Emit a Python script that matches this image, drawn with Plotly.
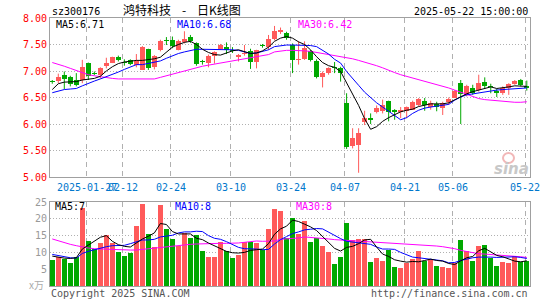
import plotly.graph_objects as go

# ---------------- data ----------------
dates = ["01-17", "01-20", "01-21", "01-22", "01-23", "01-24", "01-27",
         "02-05", "02-06", "02-07", "02-10", "02-11", "02-12", "02-13", "02-14",
         "02-17", "02-18", "02-19", "02-20", "02-21", "02-24", "02-25", "02-26",
         "02-27", "02-28",
         "03-03", "03-04", "03-05", "03-06", "03-07", "03-10", "03-11", "03-12",
         "03-13", "03-14", "03-17", "03-18", "03-19", "03-20", "03-21", "03-24",
         "03-25", "03-26", "03-27", "03-28", "03-31",
         "04-01", "04-02", "04-03", "04-07", "04-08", "04-09", "04-10", "04-11",
         "04-14", "04-15", "04-16", "04-17", "04-18", "04-21", "04-22", "04-23",
         "04-24", "04-25", "04-28", "04-29", "04-30",
         "05-06", "05-07", "05-08", "05-09", "05-12", "05-13", "05-14", "05-15",
         "05-16", "05-19", "05-20", "05-21", "05-22"]

open_ = [6.82, 6.82, 6.93, 6.88, 6.83, 6.83, 7.15, 6.96, 6.92, 7.10,
         7.16, 7.27, 7.17, 7.20, 7.12, 7.02, 7.42, 7.07, 7.39, 7.58,
         7.59, 7.39, 7.54, 7.65, 7.53, 7.19, 7.15, 7.29, 7.42, 7.46,
         7.39, 7.26, 7.33, 7.37, 7.17, 7.49, 7.46, 7.60, 7.73, 7.71,
         7.49, 7.20, 7.22, 7.37, 7.18, 6.88, 6.97, 7.08, 7.05, 6.39,
         5.59, 5.61, 6.03, 6.10, 6.22, 6.25, 6.44, 6.25, 6.24, 6.24,
         6.27, 6.36, 6.44, 6.32, 6.38, 6.31, 6.41, 6.50, 6.78, 6.55,
         6.68, 6.64, 6.80, 6.71, 6.63, 6.59, 6.68, 6.75, 6.83, 6.72]
high = [6.83, 6.95, 6.99, 6.91, 6.96, 7.21, 7.16, 6.99, 7.07, 7.25,
        7.27, 7.29, 7.22, 7.22, 7.32, 7.47, 7.42, 7.30, 7.59, 7.64,
        7.65, 7.59, 7.75, 7.68, 7.54, 7.21, 7.31, 7.37, 7.51, 7.54,
        7.45, 7.32, 7.49, 7.42, 7.40, 7.51, 7.68, 7.85, 7.82, 7.74,
        7.52, 7.56, 7.56, 7.40, 7.22, 6.99, 7.07, 7.17, 7.08, 6.58,
        5.92, 5.92, 6.25, 6.20, 6.35, 6.46, 6.44, 6.28, 6.32, 6.33,
        6.44, 6.49, 6.49, 6.44, 6.42, 6.42, 6.50, 6.64, 6.83, 6.74,
        6.74, 6.93, 6.88, 6.76, 6.66, 6.71, 6.77, 6.83, 6.85, 6.82]
low = [6.76, 6.77, 6.66, 6.71, 6.71, 6.77, 6.83, 6.92, 6.86, 7.05,
       7.15, 7.18, 7.10, 7.11, 7.07, 7.02, 7.02, 7.03, 7.37, 7.49,
       7.43, 7.39, 7.52, 7.53, 7.10, 7.12, 7.07, 7.14, 7.40, 7.32,
       7.34, 7.18, 7.29, 7.04, 7.05, 7.44, 7.40, 7.58, 7.70, 7.59,
       6.96, 7.12, 7.21, 7.18, 6.86, 6.69, 6.93, 6.96, 6.80, 5.53,
       5.54, 5.08, 5.98, 6.00, 6.20, 6.20, 6.05, 6.08, 6.11, 6.11,
       6.27, 6.34, 6.25, 6.27, 6.24, 6.17, 6.36, 6.49, 6.00, 6.52,
       6.55, 6.61, 6.66, 6.58, 6.51, 6.55, 6.55, 6.74, 6.71, 6.63]
close = [6.79, 6.88, 6.85, 6.76, 6.74, 7.07, 6.90, 6.94, 7.05, 7.16,
         7.26, 7.20, 7.16, 7.13, 7.18, 7.45, 7.05, 7.29, 7.57, 7.56,
         7.48, 7.56, 7.60, 7.57, 7.14, 7.17, 7.29, 7.36, 7.49, 7.39,
         7.38, 7.30, 7.34, 7.17, 7.39, 7.47, 7.60, 7.76, 7.78, 7.62,
         7.20, 7.22, 7.43, 7.20, 6.88, 6.97, 7.05, 7.06, 6.96, 5.56,
         5.73, 5.83, 6.12, 6.09, 6.30, 6.36, 6.22, 6.24, 6.25, 6.32,
         6.42, 6.47, 6.36, 6.39, 6.32, 6.39, 6.48, 6.63, 6.57, 6.72,
         6.58, 6.77, 6.71, 6.70, 6.58, 6.68, 6.75, 6.82, 6.74, 6.67]

ma5 = [6.65, 6.76, 6.79, 6.80, 6.80, 6.83, 6.85, 6.86, 6.90, 7.00,
       7.08, 7.14, 7.17, 7.19, 7.20, 7.20, 7.21, 7.23, 7.26, 7.35,
       7.45, 7.50, 7.54, 7.56, 7.50, 7.41, 7.35, 7.31, 7.30, 7.34,
       7.38, 7.40, 7.37, 7.33, 7.34, 7.38, 7.45, 7.56, 7.62, 7.65,
       7.62, 7.55, 7.50, 7.40, 7.27, 7.16, 7.10, 7.07, 6.99, 6.78,
       6.55, 6.35, 6.10, 5.90, 5.95, 6.05, 6.12, 6.18, 6.23, 6.26,
       6.28, 6.33, 6.35, 6.38, 6.38, 6.38, 6.40, 6.46, 6.52, 6.57,
       6.61, 6.64, 6.68, 6.70, 6.67, 6.68, 6.70, 6.72, 6.72, 6.71]
ma10 = [6.59, 6.62, 6.65, 6.66, 6.67, 6.72, 6.77, 6.81, 6.85, 6.89,
        6.94, 6.98, 7.03, 7.08, 7.12, 7.12, 7.14, 7.16, 7.19, 7.24,
        7.29, 7.33, 7.36, 7.39, 7.41, 7.41, 7.41, 7.41, 7.41, 7.41,
        7.40, 7.39, 7.36, 7.33, 7.34, 7.37, 7.40, 7.46, 7.48, 7.49,
        7.49, 7.49, 7.49, 7.48, 7.46, 7.39, 7.32, 7.22, 7.15, 6.99,
        6.87, 6.73, 6.60, 6.50, 6.40, 6.32, 6.24, 6.16, 6.08, 6.12,
        6.20, 6.26, 6.30, 6.32, 6.34, 6.35, 6.37, 6.45, 6.51, 6.55,
        6.57, 6.59, 6.61, 6.63, 6.64, 6.65, 6.66, 6.67, 6.68, 6.68]
ma30 = [7.16, 7.13, 7.09, 7.05, 7.01, 6.97, 6.93, 6.91, 6.89, 6.87,
        6.86, 6.85, 6.85, 6.85, 6.85, 6.85, 6.85, 6.85, 6.88, 6.91,
        6.95, 6.98, 7.01, 7.03, 7.06, 7.09, 7.11, 7.13, 7.15, 7.17,
        7.19, 7.21, 7.23, 7.25, 7.27, 7.29, 7.31, 7.36, 7.38, 7.39,
        7.39, 7.39, 7.38, 7.37, 7.35, 7.33, 7.31, 7.30, 7.28, 7.26,
        7.23, 7.20, 7.17, 7.14, 7.10, 7.06, 7.01, 6.97, 6.93, 6.90,
        6.87, 6.83, 6.80, 6.77, 6.74, 6.71, 6.68, 6.64, 6.60, 6.56,
        6.51, 6.48, 6.46, 6.45, 6.43, 6.42, 6.42, 6.41, 6.41, 6.42]

volume = [7.8, 8.5, 8.0, 6.8, 8.5, 23.2, 13.4, 11.0, 12.9, 15.2,
          12.9, 10.0, 9.0, 9.8, 17.8, 24.4, 15.4, 11.5, 24.0, 16.9,
          13.9, 11.8, 15.7, 14.2, 15.2, 10.5, 8.5, 8.7, 13.1, 10.5,
          8.2, 9.3, 13.1, 13.2, 12.8, 10.8, 17.1, 22.9, 22.3, 14.4,
          20.2, 15.4, 19.3, 13.1, 14.4, 12.0, 10.0, 6.6, 8.7, 18.8,
          13.7, 14.1, 13.9, 7.1, 8.2, 7.5, 10.8, 5.6, 5.3, 6.8,
          8.0, 10.5, 7.5, 8.0, 6.1, 5.6, 5.3, 6.8, 13.7, 10.5,
          7.5, 12.0, 12.3, 8.2, 5.9, 7.1, 6.9, 8.8, 7.1, 7.5]
vma5 = [8.9, 8.5, 8.3, 8.2, 8.4, 11.0, 12.2, 13.3, 14.5, 15.0,
        13.3, 12.3, 11.8, 11.6, 12.9, 14.0, 14.8, 15.8, 18.6, 18.3,
        16.2, 15.5, 15.5, 15.5, 14.2, 13.8, 12.8, 11.9, 11.0, 10.3,
        9.9, 9.8, 10.0, 10.6, 10.8, 11.0, 12.6, 15.4, 17.0, 17.8,
        19.6, 19.2, 18.4, 17.6, 16.5, 14.8, 13.0, 11.2, 10.4, 11.5,
        11.8, 12.6, 13.7, 13.9, 11.6, 9.5, 8.8, 7.8, 7.4, 7.1,
        7.3, 7.2, 7.6, 8.0, 7.6, 7.4, 6.7, 6.4, 7.5, 8.4,
        8.8, 10.5, 11.2, 10.2, 9.1, 8.7, 8.1, 7.4, 7.2, 7.5]
vma10 = [9.4, 9.0, 8.6, 8.4, 8.3, 9.7, 10.3, 10.8, 11.3, 11.7,
         12.0, 12.0, 12.1, 12.6, 13.2, 13.7, 13.7, 13.9, 14.6, 14.8,
         15.1, 15.8, 16.1, 16.1, 16.3, 16.2, 15.0, 14.2, 13.9, 13.2,
         12.3, 11.5, 11.1, 11.1, 11.0, 10.8, 10.9, 12.5, 13.8, 14.7,
         15.6, 16.1, 16.7, 16.9, 17.1, 17.0, 16.0, 15.0, 14.1, 13.3,
         13.1, 13.0, 12.7, 12.4, 11.6, 11.0, 11.0, 10.9, 10.0, 9.3,
         8.6, 8.4, 8.2, 8.0, 7.6, 7.5, 6.9, 7.0, 7.6, 8.1,
         8.4, 8.6, 8.7, 8.6, 8.5, 8.6, 8.8, 8.7, 8.5, 8.2]
vma30 = [14.0, 13.4, 12.9, 12.4, 12.0, 11.6, 11.3, 11.1, 11.0, 10.9,
         10.8, 10.7, 10.7, 10.7, 10.7, 10.9, 11.1, 11.3, 11.5, 11.8,
         12.0, 12.2, 12.3, 12.4, 12.5, 12.6, 12.7, 12.7, 12.7, 12.7,
         12.7, 12.8, 13.0, 13.2, 13.4, 13.3, 13.3, 13.4, 13.9, 14.0,
         14.1, 14.3, 14.6, 14.5, 14.4, 14.2, 14.0, 13.8, 13.7, 13.5,
         13.4, 13.3, 13.2, 13.0, 12.9, 12.8, 12.7, 12.6, 12.5, 12.4,
         12.3, 12.2, 12.1, 12.0, 11.9, 11.7, 11.5, 11.1, 10.6, 10.2,
         9.9, 9.6, 9.5, 9.4, 9.3, 9.2, 9.0, 8.9, 8.7, 8.5]

label_dates = ["01-27", "02-12", "02-24", "03-10", "03-24", "04-07", "04-21", "05-06", "05-22"]
label_text = ["2025-01-27", "02-12", "02-24", "03-10", "03-24", "04-07", "04-21", "05-06", "05-22"]
price_ticks = [5.0, 5.5, 6.0, 6.5, 7.0, 7.5, 8.0]
vol_ticks = [5, 10, 15, 20, 25]

# ---------------- styling ----------------
W, H = 545, 300
L, R = 50, 529.5
MONO = "DejaVu Sans Mono"
CJK = "Noto Sans CJK SC"
RED = "#FF5A5A"
GREEN = "#00A800"
FRAME = "#A0A0A0"
GRID = "#B0B0B0"


def px(x):
    return x / W


def py(y):
    return 1 - y / H


n = len(dates)
xs = list(range(n))
tick_pos = [dates.index(d) - 0.3 for d in label_dates]
up = [c >= o for o, c in zip(open_, close)]

fig = go.Figure()

# candles
for flag, col in [(True, RED), (False, GREEN)]:
    wx, wy, bx, bb, bh = [], [], [], [], []
    for i in xs:
        if up[i] != flag:
            continue
        wx += [i, i, None]
        wy += [low[i], high[i], None]
        lo_b = min(open_[i], close[i])
        hgt = abs(close[i] - open_[i])
        if hgt < 0.02:
            lo_b -= (0.02 - hgt) / 2
            hgt = 0.02
        bx.append(i)
        bb.append(lo_b)
        bh.append(hgt)
    fig.add_trace(go.Scatter(x=wx, y=wy, mode="lines", line=dict(color=col, width=1),
                             xaxis="x", yaxis="y", hoverinfo="skip"))
    fig.add_trace(go.Bar(x=bx, y=bh, base=bb, width=0.83,
                         marker=dict(color=col, line=dict(width=0)),
                         xaxis="x", yaxis="y"))

for ser, col in [(ma30, "#FF00FF"), (ma10, "#0000FF"), (ma5, "#000000")]:
    fig.add_trace(go.Scatter(x=xs, y=ser, mode="lines", line=dict(color=col, width=1),
                             xaxis="x", yaxis="y"))

# volume
fig.add_trace(go.Bar(x=xs, y=volume, width=0.83,
                     marker=dict(color=[RED if u else GREEN for u in up], line=dict(width=0)),
                     xaxis="x2", yaxis="y2"))
for ser, col in [(vma30, "#FF00FF"), (vma10, "#0000FF"), (vma5, "#000000")]:
    fig.add_trace(go.Scatter(x=xs, y=ser, mode="lines", line=dict(color=col, width=1),
                             xaxis="x2", yaxis="y2"))

xcommon = dict(domain=[px(L), px(R)], range=[-0.38, 79.45], tickvals=tick_pos,
               showgrid=True, gridcolor=GRID, griddash="5px,4px", gridwidth=1,
               showline=True, mirror=True, linecolor=FRAME, linewidth=1,
               zeroline=False, ticks="", fixedrange=True, showticklabels=False,
               automargin=False)

ycommon = dict(showgrid=True, gridcolor=GRID, griddash="1px,2px",
               showline=True, mirror=True, linecolor=FRAME, zeroline=False,
               ticks="", automargin=False, fixedrange=True)

fig.update_layout(
    width=W, height=H, margin=dict(l=0, r=0, t=0, b=0, autoexpand=False),
    paper_bgcolor="white", plot_bgcolor="white",
    showlegend=False, barmode="overlay", bargap=0, hovermode=False,
    xaxis=dict(**xcommon, anchor="y"),
    xaxis2=dict(**xcommon, anchor="y2"),
    yaxis=dict(**ycommon, domain=[py(177), py(18)], range=[5, 8], tickvals=price_ticks,
               ticktext=["%.2f" % v for v in price_ticks],
               tickfont=dict(family=MONO, size=10, color="#FF0000")),
    yaxis2=dict(**ycommon, domain=[py(286), py(202)], range=[0, 25], tickvals=vol_ticks,
                ticktext=[str(v) for v in vol_ticks],
                tickfont=dict(family=MONO, size=10, color="#999999")),
)


def ann(text, x, y, color, size=10, family=MONO, xanchor="left"):
    fig.add_annotation(text=text, x=px(x), y=py(y), xref="paper", yref="paper",
                       xanchor=xanchor, yanchor="middle", showarrow=False,
                       font=dict(family=family, size=size, color=color))


# date labels under the price panel
for t, s in zip(tick_pos, label_text):
    fig.add_annotation(text=s, x=t, y=py(187), xref="x", yref="paper",
                       xanchor="center", yanchor="middle", showarrow=False,
                       font=dict(family=MONO, size=10, color="#0077CC"))

ann("sz300176", 50, 11.5, "#000000")
ann("鸿特科技", 121, 10, "#000000", size=12, family=CJK)
ann("-", 183.5, 10, "#000000", size=12, family=CJK, xanchor="center")
ann("日K线图", 195, 10, "#000000", size=12, family=CJK)
ann("2025-05-22 15:00:00", 530, 11.5, "#000000", xanchor="right")

ann("MA5:%.2f" % ma5[-1], 54, 24.5, "#000000")
ann("MA10:%.2f" % ma10[-1], 175, 24.5, "#0000FF")
ann("MA30:%.2f" % ma30[-1], 296, 24.5, "#FF00FF")

ann("MA5:%d" % int(vma5[-1]), 53, 207, "#000000")
ann("MA10:%d" % int(vma10[-1]), 173, 207, "#0000FF")
ann("MA30:%d" % int(vma30[-1]), 294, 207, "#FF00FF")

ann("x万", 46, 284, "#AAAAAA", size=10, family=CJK, xanchor="right")
ann("Copyright 2025 SINA.COM", 49, 293, "#555555")
ann("http://finance.sina.com.cn", 530, 293, "#555555", xanchor="right")

# sina watermark
fig.add_shape(type="circle", xref="paper", yref="paper",
              x0=px(503), x1=px(514), y0=py(163), y1=py(153),
              line=dict(color="#F2B8B8", width=2))
ann("<b><i>sina</i></b>", 511, 169, "#C8C8C8", size=15, family="DejaVu Sans", xanchor="center")

fig.write_html("out.html", config={"displayModeBar": False, "staticPlot": True},
               post_script="document.body.style.margin='0px';document.body.style.overflow='hidden';")
